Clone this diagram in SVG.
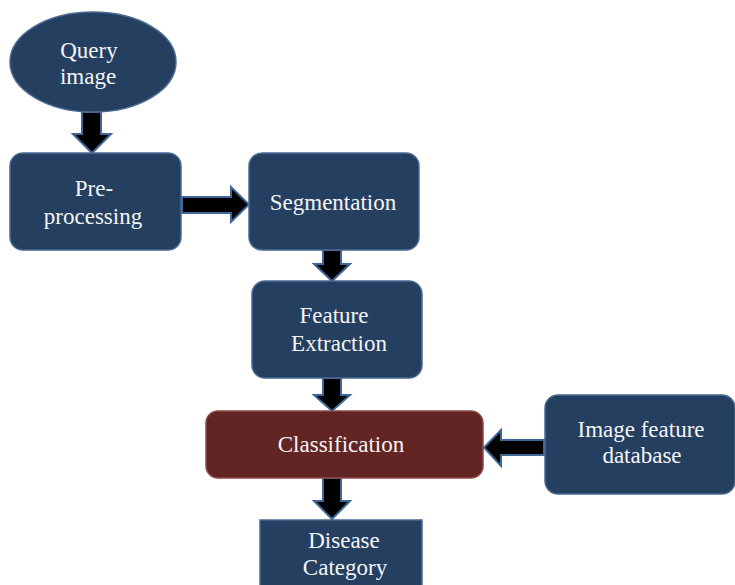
<svg xmlns="http://www.w3.org/2000/svg" width="735" height="585" viewBox="0 0 735 585">
<style>
.node{fill:#243f60;stroke:#4a6a92;stroke-width:1.5}
.cls{fill:#632523;stroke:#8a4a48;stroke-width:1.5}
.arrow{fill:#000;stroke:#3e6696;stroke-width:2;stroke-linejoin:miter}
text{font-family:"Liberation Serif","Times New Roman",serif;font-size:23px;fill:#f4f4f4;text-anchor:middle}
</style>
<rect width="735" height="585" fill="#fff"/>
<g id="connectors">
<polygon class="arrow" points="82,112 101,112 101,134 111,134 92,153 73,134 82,134"/>
<polygon class="arrow" points="182,197 231,197 231,187 249,204.5 231,222 231,213 182,213"/>
<polygon class="arrow" points="323,250 341,250 341,264 350,264 332,281 314,264 323,264"/>
<polygon class="arrow" points="323,378 341,378 341,395 350,395 332,411 314,395 323,395"/>
<polygon class="arrow" points="323,478 341,478 341,501 350,501 332,519 314,501 323,501"/>
<polygon class="arrow" points="544,440 501,440 501,430 484,447.5 501,466 501,455 544,455"/>
</g>
<g id="query-image">
<ellipse class="node" cx="93" cy="62" rx="83" ry="50"/>
<text x="89" y="58">Query</text>
<text x="88" y="84">image</text>
</g>
<g id="pre-processing">
<rect class="node" x="10" y="153" width="171" height="97" rx="13"/>
<text x="94" y="196">Pre-</text>
<text x="93" y="224">processing</text>
</g>
<g id="segmentation">
<rect class="node" x="249" y="153" width="170" height="97" rx="13"/>
<text x="333" y="210">Segmentation</text>
</g>
<g id="feature-extraction">
<rect class="node" x="252" y="281" width="170" height="97" rx="13"/>
<text x="334" y="323">Feature</text>
<text x="339" y="351">Extraction</text>
</g>
<g id="classification">
<rect class="cls" x="206" y="411" width="277" height="67" rx="12"/>
<text x="341" y="452">Classification</text>
</g>
<g id="image-feature-database">
<rect class="node" x="545" y="395" width="190" height="99" rx="13"/>
<text x="641" y="437">Image feature</text>
<text x="642" y="463">database</text>
</g>
<g id="disease-category">
<rect class="node" x="260" y="520" width="162" height="70"/>
<text x="344" y="548">Disease</text>
<text x="345" y="575">Category</text>
</g>
</svg>
